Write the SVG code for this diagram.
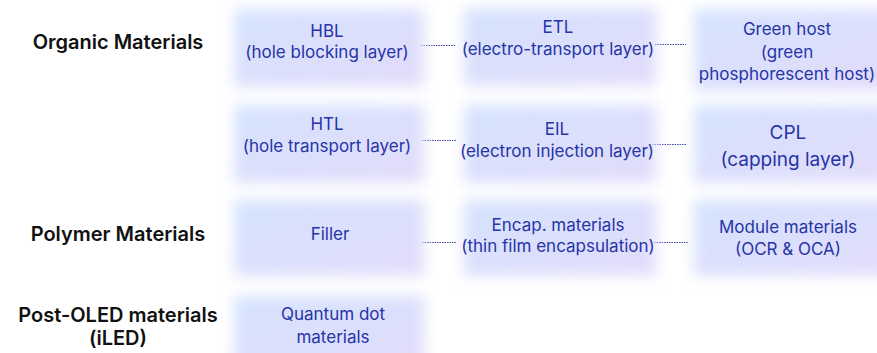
<svg xmlns="http://www.w3.org/2000/svg" width="877" height="353" viewBox="0 0 877 353">
<style>
.box{fill:url(#g);filter:url(#blur)}
.t{font-family:Inter,"Noto Sans",sans-serif;font-size:17px;fill:#2634a8;text-anchor:middle}
.big{font-size:19px}
.lab{font-family:Inter,"Noto Sans",sans-serif;font-size:20px;font-weight:600;fill:#111;text-anchor:middle}
.c{stroke:#3a42ac;stroke-width:1;stroke-dasharray:1.5 1;fill:none}
</style>
<defs>
<linearGradient id="g" x1="0" y1="0" x2="1" y2="1">
<stop offset="0" stop-color="#d5e3fd"/>
<stop offset="1" stop-color="#e2dcfb"/>
</linearGradient>
<filter id="blur" x="-20%" y="-30%" width="140%" height="160%">
<feGaussianBlur stdDeviation="7"/>
</filter>
</defs>
<rect width="877" height="353" fill="#ffffff"/>
<g id="labels">
<text class="lab" x="118" y="49">Organic Materials</text>
<text class="lab" x="118" y="241">Polymer Materials</text>
<text class="lab" x="118" y="322">Post-OLED materials</text>
<text class="lab" x="118" y="345">(iLED)</text>
</g>
<g id="connectors">
<line class="c" x1="421" y1="45.5" x2="456" y2="45.5"/>
<line class="c" x1="655" y1="44.5" x2="686" y2="44.5"/>
<line class="c" x1="422" y1="140.5" x2="457" y2="140.5"/>
<line class="c" x1="652" y1="144.5" x2="686" y2="144.5"/>
<line class="c" x1="422" y1="242.5" x2="456" y2="242.5"/>
<line class="c" x1="654" y1="242.5" x2="688" y2="242.5"/>
</g>
<g id="hbl">
<rect class="box" x="234" y="9" width="190" height="78"/>
<text class="t" x="327" y="37">HBL</text>
<text class="t" x="327" y="58">(hole blocking layer)</text>
</g>
<g id="etl">
<rect class="box" x="464" y="8" width="192" height="78"/>
<text class="t" x="558" y="33">ETL</text>
<text class="t" x="558" y="55">(electro-transport layer)</text>
</g>
<g id="green-host">
<rect class="box" x="694" y="9" width="195" height="82"/>
<text class="t" x="787" y="35">Green host</text>
<text class="t" x="787" y="58">(green</text>
<text class="t" x="787" y="80">phosphorescent host)</text>
</g>
<g id="htl">
<rect class="box" x="234" y="105" width="190" height="78"/>
<text class="t" x="327" y="130">HTL</text>
<text class="t" x="327" y="152">(hole transport layer)</text>
</g>
<g id="eil">
<rect class="box" x="464" y="105" width="192" height="78"/>
<text class="t" x="557" y="135">EIL</text>
<text class="t" x="557" y="157">(electron injection layer)</text>
</g>
<g id="cpl">
<rect class="box" x="694" y="105" width="195" height="78"/>
<text class="t big" x="788" y="139">CPL</text>
<text class="t big" x="788" y="166">(capping layer)</text>
</g>
<g id="filler">
<rect class="box" x="234" y="200" width="190" height="76"/>
<text class="t" x="330" y="240">Filler</text>
</g>
<g id="encap">
<rect class="box" x="464" y="200" width="192" height="76"/>
<text class="t" x="558" y="231">Encap. materials</text>
<text class="t" x="558" y="252">(thin film encapsulation)</text>
</g>
<g id="module">
<rect class="box" x="694" y="200" width="195" height="76"/>
<text class="t" x="788" y="233">Module materials</text>
<text class="t" x="788" y="255">(OCR &amp; OCA)</text>
</g>
<g id="quantum">
<rect class="box" x="234" y="296" width="190" height="72"/>
<text class="t" x="333" y="320">Quantum dot</text>
<text class="t" x="333" y="343">materials</text>
</g>
</svg>
